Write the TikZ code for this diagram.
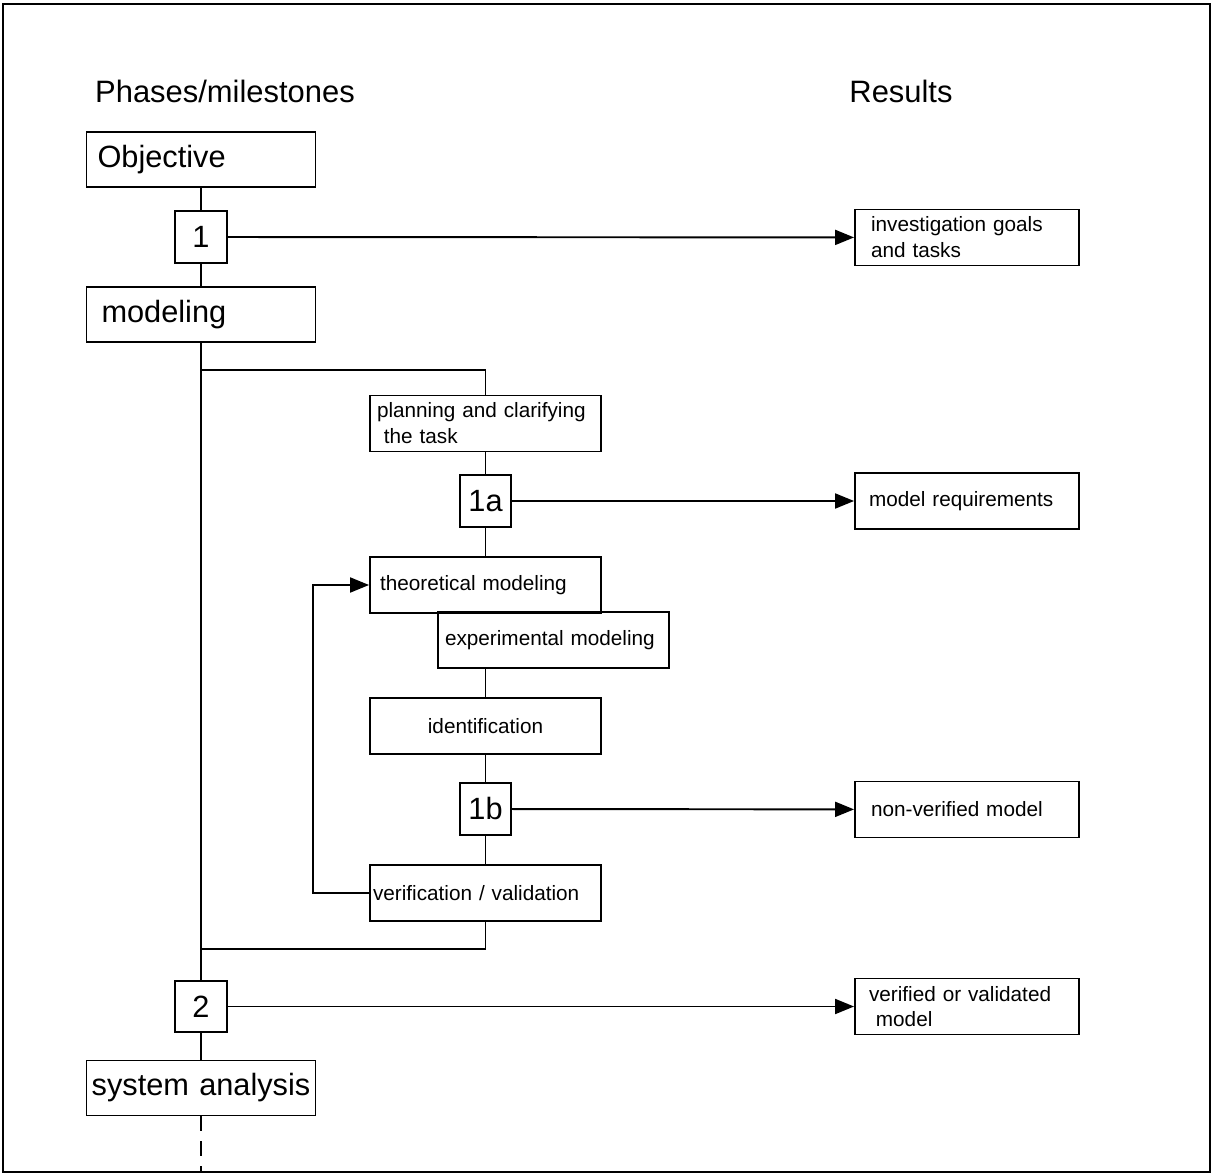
\documentclass[tikz,border=0pt]{standalone}
\usepackage{fontspec}
\setmainfont{Liberation Sans}
\usetikzlibrary{arrows.meta}
\begin{document}
\begin{tikzpicture}[
        x=0.02cm, y=-0.02cm,
        line width=1.1pt,
        head/.style={font=\fontsize{17.6}{20}\selectfont},
        phase/.style={draw, font=\fontsize{17.5}{20}\selectfont, minimum width=4.58cm, minimum height=1.1cm, inner xsep=0.22cm, text width=4.14cm, align=left},
        mile/.style={draw, font=\fontsize{17.5}{20}\selectfont, minimum size=1.03cm, inner sep=0pt},
        task/.style={draw, font=\fontsize{11.8}{14.7}\selectfont, minimum width=4.62cm, minimum height=1.12cm, inner xsep=0.14cm, text width=4.34cm, align=left},
        result/.style={draw, font=\fontsize{11.8}{14.7}\selectfont, minimum width=4.48cm, minimum height=1.12cm, inner xsep=0.28cm, text width=3.92cm, align=left},
        arrow/.style={-{Triangle[length=0.38cm, width=0.3cm]}}
    ]
    \useasboundingbox (0,0) rectangle (1213,1175);
    \draw[line width=1.6pt] (3,4) rectangle (1210,1172);

    \node[head] (phases) at (225,91) {Phases/milestones};
    \node[head] (results) at (901,91) {Results};

    % phases and milestones
    \node[phase] (obj) at (201,159.5) {Objective};
    \node[mile] (m1) at (201,237) {1};
    \node[phase, inner xsep=0.3cm, text width=3.98cm] (model) at (201,314.5) {modeling};
    \node[mile] (m2) at (201,1006.5) {2};
    \node[phase, align=center, inner xsep=0.04cm, text width=4.5cm] (sysan) at (201,1088) {system analysis};

    % modeling steps
    \node[task] (plan) at (485.5,423.5) {planning and clarifying\\\ the task};
    \node[mile] (m1a) at (485.5,501) {1a};
    \node[task, inner xsep=0.2cm, text width=4.22cm] (theo) at (485.5,585) {theoretical modeling};
    \node[task] (exper) at (553.5,640) {experimental modeling};
    \node[task, align=center] (ident) at (485.5,726) {identification};
    \node[mile] (m1b) at (485.5,809) {1b};
    \node[task, inner xsep=0.06cm, text width=4.5cm] (verif) at (485.5,893) {verification / validation};

    % results
    \node[result, inner xsep=0.32cm, text width=3.84cm] (goals) at (967,237.5) {investigation goals\\and tasks};
    \node[result] (req) at (967,501) {model requirements};
    \node[result, inner xsep=0.32cm, text width=3.84cm] (nonver) at (967,809.5) {non-verified model};
    \node[result] (ver) at (967,1006.5) {verified or validated\\\ model};

    \coordinate (fork) at (201,370);
    \coordinate (join) at (201,949);
    \coordinate (tail) at (201,1172);

    \draw (obj) -- (m1);
    \draw (m1) -- (model);
    \draw (model) -- (m2);
    \draw (m2) -- (sysan);
    \draw[dash pattern=on 8.5pt off 5.7pt] (sysan) -- (tail);

    \draw (fork) -| (plan);
    \draw (plan) -- (m1a);
    \draw (m1a) -- (theo);
    \draw (ident.north |- exper.south) -- (ident);
    \draw (ident) -- (m1b);
    \draw (m1b) -- (verif);
    \draw (verif) |- (join);
    \draw[arrow] (verif.west) -- ++(-56,0) |- (theo.west);

    \draw[arrow] (m1) -- (goals);
    \draw[arrow] (m1a) -- (req);
    \draw[arrow] (m1b) -- (nonver);
    \draw[arrow] (m2) -- (ver);
\end{tikzpicture}
\end{document}
